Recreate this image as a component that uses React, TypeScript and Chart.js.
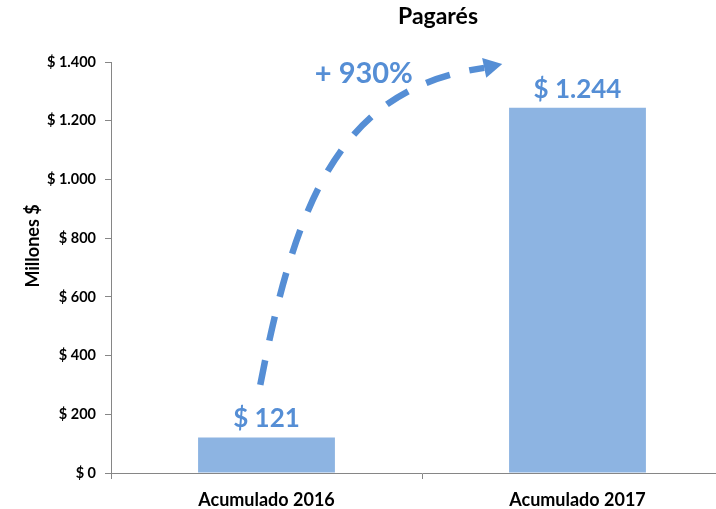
import React, { useEffect, useRef } from 'react';
import { Chart, registerables } from 'chart.js';

Chart.register(...registerables);

// ---- data ----
const categories = ['Acumulado 2016', 'Acumulado 2017'];
const values = [121, 1244];
const yTickValues = [0, 200, 400, 600, 800, 1000, 1200, 1400];
const chartTitle = 'Pagarés';
const yAxisTitle = 'Millones $';
const growthLabel = '+ 930%';
// growth arrow (annotation) in data units: x = category index, y = value
const arrowCurveX = [-0.02, 0.094, 0.239, 0.7];
const arrowCurveY = [300, 930, 1312, 1380];
const arrowTip = [0.758, 1393];
const growthLabelPos = [0.313, 1329];

const BAR_COLOR = '#8DB4E2';
const ACCENT = '#558ED5';
const AXIS_COLOR = '#868686';
const FONT = 'Lato, "Open Sans", sans-serif';

const fmt = (v: number) =>
  '$ ' + String(Math.round(v)).replace(/\B(?=(\d{3})+(?!\d))/g, '.');

const overlay = {
  id: 'overlay',
  afterDraw(chart: any) {
    const { ctx, chartArea, scales } = chart;
    const xs = scales.x;
    const ys = scales.y;
    const x0 = xs.getPixelForValue(0);
    const x1 = xs.getPixelForValue(1);
    const px = (u: number) => x0 + u * (x1 - x0);
    const py = (v: number) => ys.getPixelForValue(v);

    ctx.save();
    // title
    ctx.fillStyle = '#000';
    ctx.font = `bold 23px ${FONT}`;
    ctx.textAlign = 'center';
    ctx.textBaseline = 'alphabetic';
    ctx.fillText(chartTitle, (chartArea.left + chartArea.right) / 2 + 16, 24);

    // y axis title
    ctx.save();
    ctx.translate(39, 246);
    ctx.rotate(-Math.PI / 2);
    ctx.font = `bold 18px ${FONT}`;
    ctx.textAlign = 'center';
    ctx.textBaseline = 'alphabetic';
    ctx.fillText(yAxisTitle, 0, 0);
    ctx.restore();

    // value labels
    const meta = chart.getDatasetMeta(0);
    ctx.fillStyle = ACCENT;
    ctx.font = `bold 26px ${FONT}`;
    ctx.textAlign = 'center';
    ctx.textBaseline = 'alphabetic';
    meta.data.forEach((el: any, i: number) => {
      ctx.fillText(fmt(values[i]), el.x, el.y - 10);
    });

    // dashed growth arrow
    ctx.strokeStyle = ACCENT;
    ctx.lineWidth = 6.5;
    ctx.lineCap = 'butt';
    ctx.setLineDash([25, 20]);
    ctx.beginPath();
    ctx.moveTo(px(arrowCurveX[0]), py(arrowCurveY[0]));
    ctx.bezierCurveTo(
      px(arrowCurveX[1]), py(arrowCurveY[1]),
      px(arrowCurveX[2]), py(arrowCurveY[2]),
      px(arrowCurveX[3]), py(arrowCurveY[3])
    );
    ctx.stroke();
    ctx.setLineDash([]);

    const ex = px(arrowCurveX[3]);
    const ey = py(arrowCurveY[3]);
    const tx = px(arrowTip[0]);
    const ty = py(arrowTip[1]);
    const ang = Math.atan2(ty - ey, tx - ex);
    const hw = 10;
    ctx.fillStyle = ACCENT;
    ctx.beginPath();
    ctx.moveTo(tx, ty);
    ctx.lineTo(ex + Math.cos(ang + Math.PI / 2) * hw, ey + Math.sin(ang + Math.PI / 2) * hw);
    ctx.lineTo(ex - Math.cos(ang + Math.PI / 2) * hw, ey - Math.sin(ang + Math.PI / 2) * hw);
    ctx.closePath();
    ctx.fill();

    // growth label
    ctx.font = `bold 29px ${FONT}`;
    ctx.textAlign = 'center';
    ctx.fillText(growthLabel, px(growthLabelPos[0]), py(growthLabelPos[1]));
    ctx.restore();
  },
};

export default function App() {
  const ref = useRef<HTMLCanvasElement | null>(null);

  useEffect(() => {
    if (!ref.current) return;
    const chart = new Chart(ref.current, {
      type: 'bar',
      data: {
        labels: categories,
        datasets: [
          {
            data: values,
            backgroundColor: BAR_COLOR,
            borderWidth: 0,
            categoryPercentage: 1,
            barPercentage: 0.44,
          },
        ],
      },
      options: {
        responsive: false,
        animation: false,
        layout: { padding: { left: 0, top: 62, right: 27, bottom: 0 } },
        plugins: {
          legend: { display: false },
          tooltip: { enabled: false },
          title: { display: false },
        },
        scales: {
          x: {
            offset: true,
            grid: {
              display: true,
              offset: true,
              drawOnChartArea: false,
              drawTicks: true,
              tickLength: 6,
              color: AXIS_COLOR,
            },
            border: { display: true, color: AXIS_COLOR, width: 1 },
            ticks: {
              color: '#000',
              padding: 10,
              font: { family: FONT, size: 18, weight: 'bold' },
            },
            afterFit: (s: any) => {
              s.height = 36;
            },
          },
          y: {
            min: 0,
            max: 1400,
            afterBuildTicks: (s: any) => {
              s.ticks = yTickValues.map((v) => ({ value: v }));
            },
            grid: {
              display: true,
              drawOnChartArea: false,
              drawTicks: true,
              tickLength: 6,
              color: AXIS_COLOR,
            },
            border: { display: true, color: AXIS_COLOR, width: 1 },
            ticks: {
              color: '#000',
              padding: 9,
              font: { family: FONT, size: 14.5, weight: 'bold' },
              callback: (v: any) => fmt(Number(v)),
            },
            afterFit: (s: any) => {
              s.width = 111;
            },
          },
        },
      },
      plugins: [overlay],
    } as any);
    return () => chart.destroy();
  }, []);

  return (
    <div style={{ position: 'fixed', left: 0, top: 0, width: 716, height: 509, overflow: 'hidden', background: '#fff' }}>
      <canvas ref={ref} width={760} height={509} style={{ display: 'block', width: 760, height: 509 }} />
    </div>
  );
}
